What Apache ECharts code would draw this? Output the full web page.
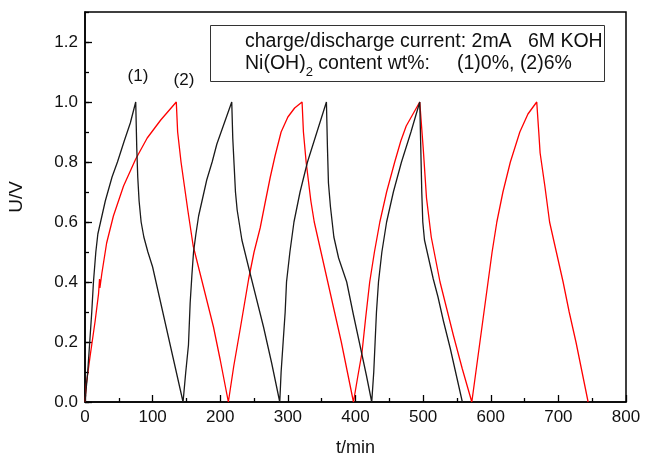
<!DOCTYPE html>
<html>
<head>
<meta charset="utf-8">
<script src="https://cdn.jsdelivr.net/npm/echarts@6/dist/echarts.min.js"></script>
<style>
html,body{margin:0;padding:0;background:#fff;}
#chart{width:646px;height:462px;}
</style>
</head>
<body>
<div id="chart"></div>
<script>
// ---- data ----
var xTicks = [0, 100, 200, 300, 400, 500, 600, 700, 800];
var yTicks = [0.0, 0.2, 0.4, 0.6, 0.8, 1.0, 1.2];

// (1) Ni(OH)2 0 wt%  (black)
var blackTime = [0,4,7,10,12.5,16,19,23,30,40,48,58,67,75,
  76.5,78,80,83,87,93,100,110,120,130,145,
  149,153,155.5,158,160.5,164,168,174,180,188,195,206,217,
  218.5,220.5,222.5,225,232,244,254,264,276,288,
  290,293,296,298,303,309,318,329,343,357,
  358.5,360,363,368,375,387,397,407,416,424,
  427,429,431,434,439,446,456,468,482,495,
  496.5,498,499.5,502,506,515,522,530,540,550,558];
var blackVoltage = [0,0.1,0.2,0.3,0.4,0.5,0.56,0.6,0.67,0.75,0.8,0.87,0.93,1.0,
  0.85,0.75,0.67,0.6,0.55,0.5,0.45,0.35,0.25,0.15,0,
  0.1,0.19,0.33,0.42,0.5,0.56,0.62,0.68,0.74,0.8,0.86,0.93,1.0,
  0.88,0.79,0.7,0.64,0.54,0.43,0.34,0.25,0.13,0,
  0.1,0.2,0.3,0.4,0.5,0.6,0.7,0.8,0.9,1.0,
  0.85,0.73,0.65,0.55,0.48,0.4,0.29,0.185,0.09,0,
  0.1,0.2,0.3,0.4,0.5,0.6,0.7,0.8,0.9,1.0,
  0.85,0.7,0.6,0.54,0.5,0.41,0.35,0.27,0.18,0.08,0];

// (2) Ni(OH)2 6 wt%  (red)
var redTime = [0,2,8,15,20,21.5,22,25,32,42,57,75,92,112,135,
  137,142,147,152,160,170,180,190,200,212,
  220,230,242,250,259,266,274,281,290,300,310,321,
  323,327,334,339,349,359,369,379,388,397,
  403,409.6,415,421,428,436,446,458,467,475,485,495,
  500,505,512,525,535,545,558,572,
  578,584,590,596,602,609,618,629,643,655,668,
  671,673,680,687,697,707,716,726,735,744];
var redVoltage = [0,0.06,0.16,0.27,0.36,0.41,0.38,0.43,0.53,0.62,0.72,0.81,0.88,0.94,1.0,
  0.9,0.8,0.72,0.64,0.52,0.43,0.34,0.25,0.14,0,
  0.12,0.25,0.41,0.5,0.58,0.66,0.75,0.82,0.9,0.95,0.98,1.0,
  0.9,0.8,0.67,0.6,0.5,0.4,0.3,0.2,0.1,0,
  0.08,0.165,0.28,0.4,0.5,0.6,0.7,0.8,0.87,0.92,0.96,1.0,
  0.85,0.68,0.55,0.4,0.31,0.22,0.11,0,
  0.1,0.2,0.3,0.4,0.5,0.6,0.7,0.8,0.9,0.96,1.0,
  0.9,0.83,0.72,0.6,0.5,0.4,0.3,0.2,0.1,0];

var infoLine1 = 'charge/discharge current: 2mA   6M KOH';
var infoLine2a = 'Ni(OH)';
var infoLine2sub = '2';
var infoLine2b = ' content wt%:     (1)0%, (2)6%';
var curveLabels = ['(1)', '(2)'];

// ---- build ----
function zip(a, b) { return a.map(function (v, i) { return [v, b[i]]; }); }

var FONT = 'Liberation Sans, Arial, sans-serif';
var INFO_FONT = '19.5px Liberation Sans';
var SUB_FONT = '13px Liberation Sans';
var chart = echarts.init(document.getElementById('chart'), null, {renderer: 'canvas'});

var ctx = document.createElement('canvas').getContext('2d');
ctx.font = INFO_FONT;
var wNi = ctx.measureText(infoLine2a).width;
ctx.font = SUB_FONT;
var wSub = ctx.measureText(infoLine2sub).width;

var textX = 245;
var axisLineStyle = {show: true, lineStyle: {color: '#000', width: 1.5}};

var option = {
  animation: false,
  backgroundColor: '#fff',
  grid: {left: 85, right: 20, top: 12, bottom: 53, show: true, borderColor: '#000', borderWidth: 1.5, backgroundColor: 'transparent'},
  xAxis: [{
    type: 'value', min: xTicks[0], max: xTicks[xTicks.length - 1], interval: 100,
    axisLine: axisLineStyle, splitLine: {show: false},
    axisTick: {show: true, inside: true, length: 7, lineStyle: {color: '#000', width: 1.3}},
    minorTick: {show: true, splitNumber: 2, length: 4, lineStyle: {color: '#000', width: 1.3}},
    axisLabel: {color: '#111', fontSize: 17, fontFamily: FONT, margin: 7},
    name: 't/min', nameLocation: 'middle', nameGap: 37,
    nameTextStyle: {color: '#111', fontSize: 18, fontFamily: FONT}
  }],
  yAxis: [{
    type: 'value', min: 0, max: 1.3, interval: 0.2,
    axisLine: axisLineStyle, splitLine: {show: false},
    axisTick: {show: true, inside: true, length: 7, lineStyle: {color: '#000', width: 1.3}},
    axisLabel: {color: '#111', fontSize: 17, fontFamily: FONT, margin: 7, showMaxLabel: false,
      formatter: function (v) { return v.toFixed(1); }}
  }, {
    type: 'value', min: 0, max: 1.3, interval: 0.1, position: 'left',
    axisLine: {show: false}, splitLine: {show: false},
    axisTick: {show: true, inside: true, length: 4, lineStyle: {color: '#000', width: 1.3}},
    axisLabel: {show: false}
  }],
  series: [{
    type: 'line', name: '(1)', data: zip(blackTime, blackVoltage), showSymbol: false, symbol: 'none',
    lineStyle: {color: '#1a1a1a', width: 1.3}, smooth: false, z: 3
  }, {
    type: 'line', name: '(2)', data: zip(redTime, redVoltage), showSymbol: false, symbol: 'none',
    lineStyle: {color: '#ff0000', width: 1.3}, smooth: false, z: 2
  }],
  graphic: [
    {type: 'rect', shape: {x: 210.5, y: 25.5, width: 394, height: 56}, style: {fill: 'none', stroke: '#333', lineWidth: 1}, z: 10},
    {type: 'text', x: textX, y: 42, style: {text: infoLine1, font: INFO_FONT, fill: '#111', textVerticalAlign: 'middle'}, z: 10},
    {type: 'text', x: textX, y: 64, style: {text: infoLine2a, font: INFO_FONT, fill: '#111', textVerticalAlign: 'middle'}, z: 10},
    {type: 'text', x: textX + wNi, y: 72, style: {text: infoLine2sub, font: SUB_FONT, fill: '#111', textVerticalAlign: 'middle'}, z: 10},
    {type: 'text', x: textX + wNi + wSub, y: 64, style: {text: infoLine2b, font: INFO_FONT, fill: '#111', textVerticalAlign: 'middle'}, z: 10},
    {type: 'text', x: 138, y: 76, style: {text: curveLabels[0], font: '17px Liberation Sans', fill: '#111', textAlign: 'center', textVerticalAlign: 'middle'}, z: 10},
    {type: 'text', x: 184, y: 80, style: {text: curveLabels[1], font: '17px Liberation Sans', fill: '#111', textAlign: 'center', textVerticalAlign: 'middle'}, z: 10},
    {type: 'text', x: 17, y: 197, rotation: Math.PI / 2, style: {text: 'U/V', font: '19px Liberation Sans', fill: '#111', textAlign: 'center', textVerticalAlign: 'middle'}, z: 10}
  ]
};
chart.setOption(option);
</script>
</body>
</html>
